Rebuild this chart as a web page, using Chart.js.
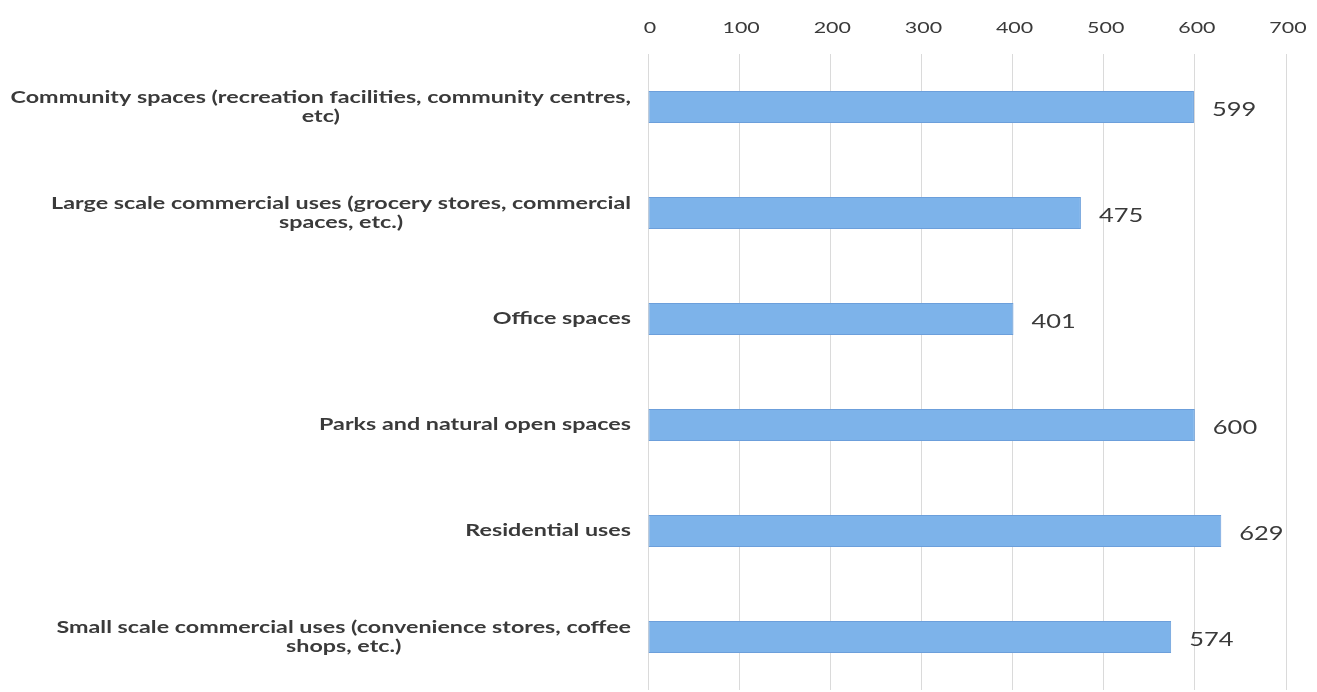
<!DOCTYPE html>
<html>
<head>
<meta charset="utf-8">
<script src="https://cdn.jsdelivr.net/npm/chart.js@4"></script>
<style>
  html, body { margin: 0; padding: 0; background: #fff; }
  #wrap { width: 1317px; height: 692px; position: relative; }
</style>
</head>
<body>
<div id="wrap"><canvas id="chart"></canvas></div>
<script>
// ===== DATA =====
const categories = [
  ['Community spaces (recreation facilities, community centres,', 'etc)'],
  ['Large scale commercial uses (grocery stores, commercial', 'spaces, etc.)'],
  ['Office spaces'],
  ['Parks and natural open spaces'],
  ['Residential uses'],
  ['Small scale commercial uses (convenience stores, coffee', 'shops, etc.)']
];
const responses = [599, 475, 401, 600, 629, 574];
const axisMin = 0;
const axisMax = 700;
const axisStep = 100;

const FONT = 'Lato, "Open Sans", sans-serif';
const TEXT = '#3a3a3a';
const SX = 1.34;       // the source text is drawn wide
const SX_LABEL = 1.37; // category labels a touch wider still

// draw text stretched horizontally
function wideText(ctx, text, x, y, align, sx = SX) {
  const w = ctx.measureText(text).width * sx;
  const left = align === 'right' ? x - w : align === 'center' ? x - w / 2 : x;
  ctx.save();
  ctx.translate(left, y);
  ctx.scale(sx, 1);
  ctx.textAlign = 'left';
  ctx.fillText(text, 0, 0);
  ctx.restore();
}

// ===== CATEGORY LABELS (block right-aligned, lines centred) =====
const categoryLabels = {
  id: 'categoryLabels',
  afterDraw(chart) {
    const ctx = chart.ctx;
    const y = chart.scales.y;
    const right = 631;
    const lineH = 19;
    ctx.save();
    ctx.font = 'bold 17px ' + FONT;
    ctx.fillStyle = TEXT;
    ctx.textBaseline = 'middle';
    categories.forEach((lines, i) => {
      const w = Math.max(...lines.map(t => ctx.measureText(t).width)) * SX_LABEL;
      const cx = right - w / 2;
      const yc = y.getPixelForValue(i);
      lines.forEach((t, k) => {
        wideText(ctx, t, cx, yc + (k - (lines.length - 1) / 2) * lineH, 'center', SX_LABEL);
      });
    });
    ctx.restore();
  }
};

// ===== TICK LABELS ON TOP =====
const topTicks = {
  id: 'topTicks',
  afterDraw(chart) {
    const ctx = chart.ctx;
    const x = chart.scales.x;
    ctx.save();
    ctx.font = '16px ' + FONT;
    ctx.fillStyle = TEXT;
    ctx.textBaseline = 'middle';
    x.ticks.forEach(t => {
      wideText(ctx, String(t.value), x.getPixelForValue(t.value) + 2, 28, 'center');
    });
    ctx.restore();
  }
};

// ===== VALUE LABELS =====
const valueLabels = {
  id: 'valueLabels',
  afterDatasetsDraw(chart) {
    const ctx = chart.ctx;
    const meta = chart.getDatasetMeta(0);
    ctx.save();
    ctx.font = '19px ' + FONT;
    ctx.fillStyle = TEXT;
    ctx.textBaseline = 'middle';
    meta.data.forEach((bar, i) => {
      wideText(ctx, String(responses[i]), bar.x + 18, bar.y + 3, 'left');
    });
    ctx.restore();
  }
};

new Chart(document.getElementById('chart'), {
  type: 'bar',
  data: {
    labels: categories.map(c => c.join(' ')),
    datasets: [{
      data: responses,
      backgroundColor: '#7db3ea',
      borderColor: '#6c9fdb',
      borderWidth: 1,
      borderSkipped: false,
      barPercentage: 0.3,
      categoryPercentage: 1
    }]
  },
  options: {
    indexAxis: 'y',
    responsive: true,
    maintainAspectRatio: false,
    animation: false,
    layout: { padding: { left: 0, right: 31, top: 0, bottom: 2 } },
    plugins: {
      legend: { display: false },
      tooltip: { enabled: false }
    },
    scales: {
      x: {
        position: 'top',
        min: axisMin,
        max: axisMax,
        afterFit(scale) { scale.height = 54; },
        border: { display: false },
        grid: { color: '#dadada', lineWidth: 1, drawTicks: false },
        ticks: { stepSize: axisStep, display: false }
      },
      y: {
        afterFit(scale) { scale.width = 648; },
        border: { display: false },
        grid: { display: false },
        ticks: { display: false }
      }
    }
  },
  plugins: [categoryLabels, topTicks, valueLabels]
});
</script>
</body>
</html>
